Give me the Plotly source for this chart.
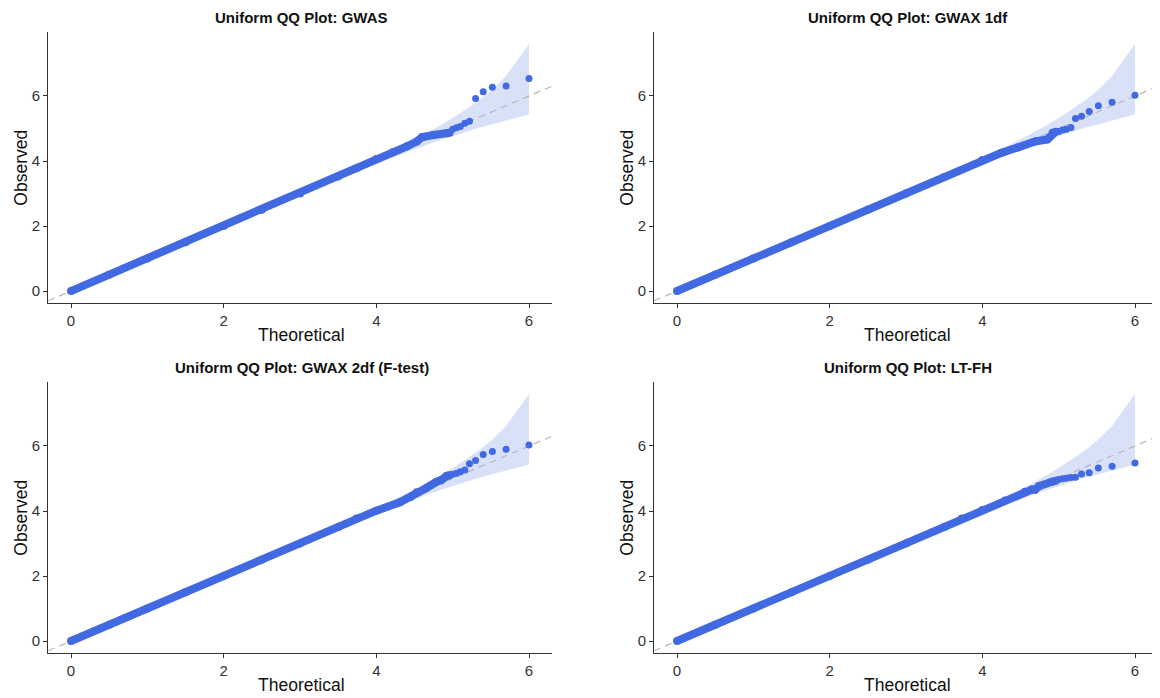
import plotly.graph_objects as go

W, H = 1160, 698
OFF = 8  # page body margin offset in the browser

titles = [
    "Uniform QQ Plot: GWAS",
    "Uniform QQ Plot: GWAX 1df",
    "Uniform QQ Plot: GWAX 2df (F-test)",
    "Uniform QQ Plot: LT-FH",
]

# Theoretical -log10(p) of the top-ranked SNPs (ranks 1..10)
tail_expected = [6.00, 5.70, 5.52, 5.40, 5.30, 5.22, 5.16, 5.10, 5.05, 5.00]

# Observed -log10(p) for those top-ranked SNPs
gwas_tail = [6.54, 6.31, 6.27, 6.13, 5.92, 5.22, 5.16, 5.06, 5.02, 4.98]
gwax1_tail = [6.02, 5.81, 5.70, 5.52, 5.38, 5.31, 5.03, 4.98, 4.95, 4.91]
gwax2_tail = [6.03, 5.90, 5.83, 5.74, 5.55, 5.45, 5.26, 5.21, 5.16, 5.13]
ltfh_tail = [5.48, 5.38, 5.32, 5.18, 5.14, 5.04, 5.03, 5.01, 4.99, 4.97]

# Bulk of the distribution (dense points)
gwas_bulk_x = [0.0, 0.5, 1.0, 1.5, 2.0, 2.5, 3.0, 3.5, 3.74, 4.0, 4.22, 4.4, 4.53, 4.6, 4.75, 4.92, 4.96]
gwas_bulk_y = [0.0, 0.5, 1.0, 1.5, 2.0, 2.5, 3.0, 3.52, 3.78, 4.06, 4.28, 4.45, 4.6, 4.74, 4.8, 4.85, 4.87]

gwax1_bulk_x = [0.0, 0.5, 1.0, 1.5, 2.0, 2.5, 3.0, 3.5, 4.0, 4.25, 4.47, 4.69, 4.85, 4.88, 4.92, 4.96]
gwax1_bulk_y = [0.0, 0.5, 1.0, 1.5, 2.0, 2.5, 3.0, 3.51, 4.03, 4.25, 4.42, 4.6, 4.66, 4.72, 4.87, 4.9]

gwax2_bulk_x = [0.0, 0.5, 1.0, 1.5, 2.0, 2.5, 3.0, 3.5, 3.74, 4.0, 4.31, 4.45, 4.53, 4.65, 4.79, 4.85, 4.92, 4.96]
gwax2_bulk_y = [0.0, 0.5, 1.0, 1.5, 2.0, 2.5, 3.0, 3.51, 3.77, 4.01, 4.27, 4.43, 4.58, 4.7, 4.9, 4.95, 5.08, 5.1]

ltfh_bulk_x = [0.0, 0.5, 1.0, 1.5, 2.0, 2.5, 3.0, 3.5, 3.73, 4.0, 4.3, 4.56, 4.65, 4.69, 4.74, 4.91, 4.96]
ltfh_bulk_y = [0.0, 0.5, 1.0, 1.5, 2.0, 2.5, 3.0, 3.51, 3.77, 4.03, 4.32, 4.59, 4.66, 4.65, 4.76, 4.9, 4.93]

# 95% confidence band (shared by all panels)
band_x = [0.0, 1.0, 2.0, 3.0, 3.5, 4.0, 4.301, 4.523, 4.699, 4.824, 5.0, 5.155, 5.301, 5.398, 5.523, 5.699, 6.0]
band_upper = [0.0, 1.0027, 2.0085, 3.0274, 3.5496, 4.0896, 4.4305, 4.694, 4.913, 5.076, 5.319, 5.551, 5.790, 5.963, 6.209, 6.616, 7.597]
band_lower = [0.0, 0.9973, 1.9915, 2.9735, 3.4537, 3.919, 4.189, 4.380, 4.528, 4.629, 4.767, 4.884, 4.990, 5.057, 5.141, 5.254, 5.433]

# Reference y = x line endpoints (span of the x axis)
diag_ends = [-0.3, 6.3]

x_ticks = [0, 2, 4, 6]
y_ticks = [0, 2, 4, 6]

panels = [
    (gwas_bulk_x, gwas_bulk_y, gwas_tail),
    (gwax1_bulk_x, gwax1_bulk_y, gwax1_tail),
    (gwax2_bulk_x, gwax2_bulk_y, gwax2_tail),
    (ltfh_bulk_x, ltfh_bulk_y, ltfh_tail),
]

POINT = "#4169E1"
BAND = "rgba(65,105,225,0.2)"
FONT = "Liberation Sans, Arial, Helvetica, sans-serif"

# panel pixel geometry (page coordinates)
px_x = [(48.1, 551.9), (654.1, 1157.9), (48.1, 551.9), (654.1, 1157.9)]
px_y = [(31.7, 303.4), (31.7, 303.4), (381.7, 653.4), (381.7, 653.4)]

fig = go.Figure()

for i, (bx, by, tail) in enumerate(panels):
    n = "" if i == 0 else str(i + 1)
    xa, ya = "x" + n, "y" + n
    fig.add_trace(go.Scatter(
        x=band_x + band_x[::-1], y=band_upper + band_lower[::-1],
        fill="toself", fillcolor=BAND, line=dict(width=0), mode="lines",
        hoverinfo="skip", showlegend=False, xaxis=xa, yaxis=ya))
    fig.add_trace(go.Scatter(
        x=diag_ends, y=diag_ends, mode="lines",
        line=dict(color="#b8b8b8", width=1.2, dash="7px,5px"),
        showlegend=False, xaxis=xa, yaxis=ya))
    fig.add_trace(go.Scatter(
        x=bx, y=by, mode="lines+markers",
        line=dict(color=POINT, width=8),
        marker=dict(color=POINT, size=8),
        showlegend=False, xaxis=xa, yaxis=ya))
    fig.add_trace(go.Scatter(
        x=tail_expected, y=tail, mode="markers",
        marker=dict(color=POINT, size=7),
        showlegend=False, xaxis=xa, yaxis=ya))

    x0, x1 = (v - OFF for v in px_x[i])
    y0, y1 = (v - OFF for v in px_y[i])
    axis_common = dict(
        showgrid=False, zeroline=False, showline=True, linecolor="#333333",
        linewidth=1.1, ticks="outside", ticklen=4, tickcolor="#333333",
        tickfont=dict(size=15, color="#333333", family=FONT),
    )
    fig.layout["xaxis" + n] = dict(
        domain=[x0 / W, x1 / W], range=[-0.3, 6.3], tickvals=x_ticks,
        anchor=ya, **axis_common)
    fig.layout["yaxis" + n] = dict(
        domain=[1 - y1 / H, 1 - y0 / H], range=[-0.38, 7.977], tickvals=y_ticks,
        anchor=xa, **axis_common)

    cx = (x0 + x1) / 2 + 1.5
    # panel title
    fig.add_annotation(x=cx / W, y=1 - (y0 - 14) / H, xref="paper", yref="paper",
                       text="<b>" + titles[i] + "</b>", showarrow=False,
                       xanchor="center", yanchor="middle",
                       font=dict(size=15, color="#111111", family=FONT))
    # x axis title
    fig.add_annotation(x=cx / W, y=1 - (y1 + 32) / H, xref="paper", yref="paper",
                       text="Theoretical", showarrow=False,
                       xanchor="center", yanchor="middle",
                       font=dict(size=17.5, color="#111111", family=FONT))
    # y axis title
    fig.add_annotation(x=(x0 - 28) / W, y=1 - ((y0 + y1) / 2) / H, xref="paper", yref="paper",
                       text="Observed", showarrow=False, textangle=-90,
                       xanchor="center", yanchor="middle",
                       font=dict(size=17.5, color="#111111", family=FONT))

fig.update_layout(
    width=W, height=H, margin=dict(l=0, r=0, t=0, b=0),
    paper_bgcolor="white", plot_bgcolor="white",
    font=dict(family=FONT),
)

fig.write_html("out.html")
